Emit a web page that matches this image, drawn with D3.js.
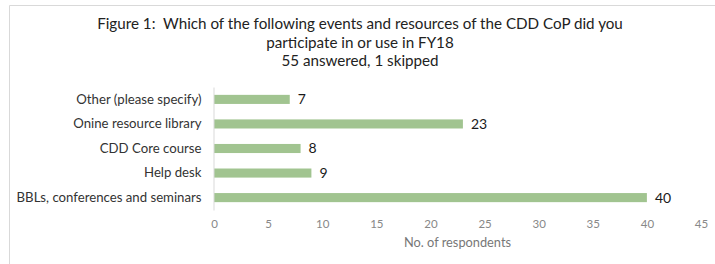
<!DOCTYPE html>
<html lang="en">
<head>
<meta charset="UTF-8">
<title>Figure 1</title>
<script src="https://d3js.org/d3.v7.min.js"></script>
<style>
    body { margin: 0; background: #fff; }
    text { font-family: Lato, "Open Sans", sans-serif; }
</style>
</head>
<body>
<script>
    // chart data
    var categories = ["Other (please specify)", "Onine resource library", "CDD Core course", "Help desk", "BBLs, conferences and seminars"];
    var values = [7, 23, 8, 9, 40];
    var xTicks = [0, 5, 10, 15, 20, 25, 30, 35, 40, 45];
    var titleLines = ["Figure 1:  Which of the following events and resources of the CDD CoP did you",
                      "participate in or use in FY18",
                      "55 answered, 1 skipped"];

    var width = 715, height = 264;
    var margin = { top: 87, left: 214, right: 15, bottom: 54 };

    var svg = d3.select("body").append("svg")
        .attr("width", width)
        .attr("height", height);

    // frame (only top and left edges visible)
    svg.append("path")
        .attr("d", "M9.5," + height + "V5.5H" + width)
        .attr("fill", "none")
        .attr("stroke", "#d9d9d9");

    var x = d3.scaleLinear().domain([0, 45]).range([margin.left, 701]);
    var y = d3.scaleBand().domain(categories)
        .range([margin.top, height - margin.bottom])
        .paddingInner(0.63).paddingOuter(0.32);

    // title
    svg.append("g").selectAll("text")
        .data(titleLines)
        .enter()
        .append("text")
        .attr("x", 360)
        .attr("y", function (d, i) { return 29 + i * 18.5; })
        .attr("text-anchor", "middle")
        .attr("font-size", 15.2)
        .attr("fill", "#222")
        .style("white-space", "pre")
        .text(function (d) { return d; });

    // bars
    svg.append("g").selectAll("rect")
        .data(values)
        .enter()
        .append("rect")
        .attr("x", x(0))
        .attr("y", function (d, i) { return y(categories[i]); })
        .attr("width", function (d) { return x(d) - x(0); })
        .attr("height", y.bandwidth())
        .attr("fill", "#a1c490");

    // value labels
    svg.append("g").selectAll("text")
        .data(values)
        .enter()
        .append("text")
        .attr("x", function (d) { return x(d) + 8; })
        .attr("y", function (d, i) { return y(categories[i]) + y.bandwidth() / 2; })
        .attr("dy", "0.35em")
        .attr("font-size", 14)
        .attr("fill", "#1a1a1a")
        .text(function (d) { return d; });

    // y axis
    var yAxis = svg.append("g")
        .attr("transform", "translate(" + (margin.left - 0.5) + ",0)")
        .call(d3.axisLeft(y).tickSize(0).tickPadding(12));
    yAxis.select(".domain").attr("stroke", "#d9d9d9");
    yAxis.selectAll("text")
        .attr("font-size", 13.2)
        .attr("fill", "#333")
        .style("font-family", "Lato, sans-serif");

    // x axis (labels only)
    var xAxis = svg.append("g")
        .attr("transform", "translate(0," + (height - margin.bottom) + ")")
        .call(d3.axisBottom(x).tickValues(xTicks).tickSize(0).tickPadding(10));
    xAxis.select(".domain").remove();
    xAxis.selectAll("text")
        .attr("font-size", 11.5)
        .attr("fill", "#888")
        .style("font-family", "Lato, sans-serif");

    svg.append("text")
        .attr("x", (x(0) + x(45)) / 2)
        .attr("y", 247)
        .attr("text-anchor", "middle")
        .attr("font-size", 12.8)
        .attr("fill", "#777")
        .text("No. of respondents");
</script>
</body>
</html>
